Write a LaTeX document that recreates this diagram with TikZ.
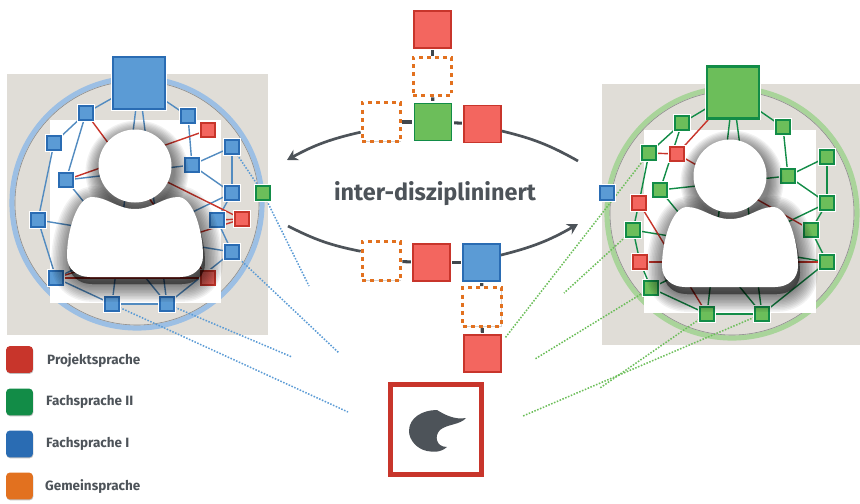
\documentclass[tikz,border=0pt]{standalone}
\usepackage{fontspec}
\setmainfont{Fira Sans}
\usetikzlibrary{arrows.meta,shadows}
\pgfdeclarelayer{back}
\pgfdeclarelayer{front}
\pgfsetlayers{back,main,front}

\definecolor{slategrey}{HTML}{4D5359}
\definecolor{panelgrey}{HTML}{E0DDD7}
\definecolor{redfill}{HTML}{F3665F}
\definecolor{redline}{HTML}{C8352B}
\definecolor{greenfill}{HTML}{6CBE5A}
\definecolor{greenline}{HTML}{128C47}
\definecolor{bluefill}{HTML}{5B9BD5}
\definecolor{blueline}{HTML}{2A6CB3}
\definecolor{orangeline}{HTML}{E2711F}
\definecolor{bluering}{HTML}{9CBFE4}
\definecolor{greenring}{HTML}{A9D49A}

\tikzset{
    box/.style = {rectangle, inner sep=0pt, line width=1.2pt, preaction={draw=white, line width=3.2pt},
        drop shadow={shadow xshift=0.4pt, shadow yshift=-0.5pt, opacity=.35}},
    smallblue/.style = {box, draw=blueline, fill=bluefill, minimum size=0.42cm},
    smallgreen/.style = {box, draw=greenline, fill=greenfill, minimum size=0.42cm},
    smallred/.style = {box, draw=redline, fill=redfill, minimum size=0.42cm},
    bigblue/.style = {box, draw=blueline, fill=bluefill, line width=2.2pt, minimum size=1.55cm},
    biggreen/.style = {box, draw=greenline, fill=greenfill, line width=2.2pt, minimum size=1.55cm},
    midblue/.style = {box, draw=blueline, fill=bluefill, minimum size=1.12cm},
    midgreen/.style = {box, draw=greenline, fill=greenfill, minimum size=1.12cm},
    midred/.style = {box, draw=redline, fill=redfill, minimum size=1.12cm},
    midopen/.style = {rectangle, inner sep=0pt, draw=orangeline, fill=white, line width=2.6pt,
        dash pattern=on 3.4pt off 3.6pt, minimum size=1.16cm,
        drop shadow={shadow xshift=0.4pt, shadow yshift=-0.5pt, opacity=.35}},
    legendbox/.style = {rectangle, rounded corners=3pt, inner sep=0pt, minimum size=0.8cm,
        drop shadow={shadow xshift=0.4pt, shadow yshift=-0.8pt, opacity=.5}},
    legendtext/.style = {anchor=west, inner sep=0pt, text=slategrey, font=\fontsize{11.5}{13}\selectfont\bfseries},
    blueedge/.style = {draw=bluefill!90!black, line width=1.2pt},
    greenedge/.style = {draw=greenline, line width=1.2pt},
    rededge/.style = {draw=redline, line width=1.2pt},
    bluedots/.style = {draw=bluefill, line width=1.3pt, dash pattern=on 1.3pt off 1.3pt},
    greendots/.style = {draw=greenfill, line width=1.3pt, dash pattern=on 1.3pt off 1.3pt},
    stub/.style = {draw=slategrey!85!black, line width=2.6pt},
    sweep/.style = {draw=slategrey, line width=2.3pt},
    sweeptip/.style = {sweep, -{Stealth[length=9pt,width=10pt]}},
    person/.pic = {
        \foreach \w in {3,6,...,36} {
            \fill[black, opacity=.05] (0,0) ++(2,6) circle (36.5 + \w/2.4);
            \draw[black, fill=black, opacity=.05, line width=\w*0.85pt, line join=round, shift={(2,7)}]
                (0,43) .. controls (18,43) and (28,31) .. (43,31) .. controls (58,31) and (68,65) .. (68,90)
                .. controls (68,103) and (58,111) .. (45,111) -- (-45,111)
                .. controls (-58,111) and (-68,103) .. (-68,90) .. controls (-68,65) and (-58,31) .. (-43,31)
                .. controls (-28,31) and (-18,43) .. (0,43) -- cycle;
        }
        \fill[white] (0,43) .. controls (18,43) and (28,31) .. (43,31) .. controls (58,31) and (68,65) .. (68,90)
            .. controls (68,103) and (58,111) .. (45,111) -- (-45,111)
            .. controls (-58,111) and (-68,103) .. (-68,90) .. controls (-68,65) and (-58,31) .. (-43,31)
            .. controls (-28,31) and (-18,43) .. (0,43) -- cycle;
        \fill[white] (0,0) circle (36.5);
    }
}

\begin{document}
\begin{tikzpicture}[x=0.03cm,y=-0.03cm]
    \useasboundingbox (0,0) rectangle (860,504);

    % left network
    \node[bigblue] (lbig) at (139,83) {};
    \foreach \n/\x/\y in {l1/86/113, l2/188/116, l3/54/143, l4/232/147, l5/192/165, l6/66/180, l7/232/193,
        l8/38/220, l9/217/220, l10/232/252, l11/56/278, l12/112/304, l13/167/304} {
        \node[smallblue] (\n) at (\x,\y) {};
    }
    \node[smallred] (lr1) at (208,130) {};
    \node[smallred] (lr2) at (242,219) {};
    \node[smallred] (lr3) at (208,278) {};
    \node[smallgreen] (lguest) at (263,193) {};
    \coordinate (lhead) at (135,166);

    % right network
    \node[biggreen] (rbig) at (733,92.5) {};
    \foreach \n/\x/\y in {g1/682/123, g2/783/127, g3/649/153, g4/827/157, g5/788/176, g6/660/190, g7/827/203,
        g8/633/230, g9/811/230, g10/827/262, g11/651/288, g12/707/314, g13/762/314} {
        \node[smallgreen] (\n) at (\x,\y) {};
    }
    \node[smallred] (rr1) at (677,154) {};
    \node[smallred] (rr2) at (639,203) {};
    \node[smallred] (rr3) at (640,262) {};
    \node[smallblue] (rguest) at (607,193) {};

    % ends of the dotted lines
    \coordinate (le1) at (309,286);
    \coordinate (le2) at (339,353);
    \coordinate (le3) at (292,357);
    \coordinate (le4) at (348,412);
    \coordinate (re1) at (505,338);
    \coordinate (re2) at (564,293);
    \coordinate (re3) at (535,359);
    \coordinate (re4) at (600,388);
    \coordinate (re5) at (523,416);

    \begin{pgfonlayer}{back}
        \fill[panelgrey] (7,74) rectangle (268,335);
        \fill[panelgrey] (602,84) rectangle (860,345);
        \draw[bluering, line width=4.4pt] (137,203) circle (125);
        \draw[greenring, line width=4.4pt] (732,213) circle (125);
        \draw[black!45, line width=0.5pt] (137,203) circle (122);
        \draw[black!45, line width=0.5pt] (732,213) circle (122);
        \fill[white] (50,120) rectangle (221,303);
        \fill[white] (644,130) rectangle (816,313);

        \foreach \p/\q in {lbig/l1, lbig/l2, lbig/l12, lbig/l13, l1/l3, l1/l6, l3/l8, l8/l11, l8/l10, l6/l5, l6/l13,
            l11/l12, l12/l13, l13/l10, l11/l7, l2/l5, l5/l4, l5/l7, l4/l7, l7/l9, l9/l10} {
            \draw[blueedge] (\p) -- (\q);
        }
        \foreach \p/\q in {l1/lr3, l6/lr1, l11/lr3, l11/lr2, lhead/lr2, l9/lr2} {
            \draw[rededge] (\p) -- (\q);
        }
        \foreach \p/\q in {rbig/g1, rbig/g2, rbig/g12, rbig/g13, g1/g3, g1/g6, g3/rr2, rr2/g8, g8/rr3, rr3/g11, g8/g10, g6/g5,
            g6/g13, g11/g7, g11/g12, g12/g13, g13/g10, g2/g5, g5/g4, g5/g7, g4/g7, g7/g9, g9/g10} {
            \draw[greenedge] (\p) -- (\q);
        }
        \foreach \p/\q in {rbig/rr1, rr1/g3, rr1/g9, rr2/g12, rr3/g10} {
            \draw[rededge] (\p) -- (\q);
        }

        \draw[bluedots] (l4) -- (lguest);
        \draw[bluedots] (lguest) -- (le1);
        \draw[bluedots] (l10) -- (le2);
        \draw[bluedots] (l13) -- (le3);
        \draw[bluedots] (l12) -- (le4);
        \draw[greendots] (g3) -- (re1);
        \draw[greendots] (g8) -- (re2);
        \draw[greendots] (g11) -- (re3);
        \draw[greendots] (g12) -- (re4);
        \draw[greendots] (g13) -- (re5);
    \end{pgfonlayer}

    \begin{pgfonlayer}{front}
        \pic at (135,166) {person};
        \pic at (730,176) {person};
    \end{pgfonlayer}

    % middle column
    \node[midred] (topred) at (432.5,29.5) {};
    \node[midopen] (topopen) at (432.5,76.5) {};
    \node[midgreen] (topgreen) at (433,122) {};
    \node[midred] (sidered) at (482.5,124) {};
    \node[midopen] (sideopen) at (381.5,122) {};
    \node[midopen] (lowopen) at (381.5,261) {};
    \node[midred] (lowred) at (431.5,262.5) {};
    \node[midblue] (lowblue) at (481.5,262.5) {};
    \node[midopen] (downopen) at (482,307) {};
    \node[midred] (downred) at (482.5,353.5) {};
    \begin{pgfonlayer}{back}
        \foreach \p/\q in {topred/topopen, topopen/topgreen, sideopen/topgreen, topgreen/sidered,
            lowopen/lowred, lowred/lowblue, lowblue/downopen, downopen/downred} {
            \draw[stub] (\p) -- (\q);
        }
    \end{pgfonlayer}

    \coordinate (tipleft) at (287,160);
    \coordinate (endright) at (578,161);
    \coordinate (endleft) at (288,226);
    \coordinate (tipright) at (578,224);
    \draw[sweeptip] (sideopen.206) to[bend right=8] (tipleft);
    \draw[sweep] (sidered.340) to[bend left=8] (endright);
    \draw[sweep] (endleft) to[bend right=8] (lowopen.155);
    \draw[sweeptip] (lowblue.21) to[bend right=8] (tipright);

    \node[inner sep=0pt, text=slategrey, font=\fontsize{20}{24}\selectfont\bfseries] (title) at (435,194) {inter-disziplininert};

    % bird in the red frame
    \node[rectangle, inner sep=0pt, draw=redline, fill=white, line width=4.2pt, minimum size=2.72cm,
        drop shadow={shadow xshift=0.4pt, shadow yshift=-0.5pt, opacity=.35}] (birdframe) at (436,429.5) {};
    \fill[slategrey] (409,431) .. controls (409,418) and (422,410) .. (437,410)
        .. controls (445,415) and (455,420) .. (466,418) .. controls (460,425) and (447,424) .. (440,430)
        .. controls (434,436) and (436,447) .. (447,447) .. controls (440,453) and (433,452) .. (427,451)
        .. controls (417,449) and (409,440) .. (409,431) -- cycle;

    % legend
    \node[legendbox, fill=redline] (keyred) at (19.5,359.5) {};
    \node[legendbox, fill=greenline] (keygreen) at (19.5,402) {};
    \node[legendbox, fill=blueline] (keyblue) at (19.5,444) {};
    \node[legendbox, fill=orangeline] (keyorange) at (19.5,486) {};
    \node[legendtext] (textred) at (47,361) {Projektsprache};
    \node[legendtext] (textgreen) at (46,402) {Fachsprache II};
    \node[legendtext] (textblue) at (46,444) {Fachsprache I};
    \node[legendtext] (textorange) at (45,487) {Gemeinsprache};
\end{tikzpicture}
\end{document}
